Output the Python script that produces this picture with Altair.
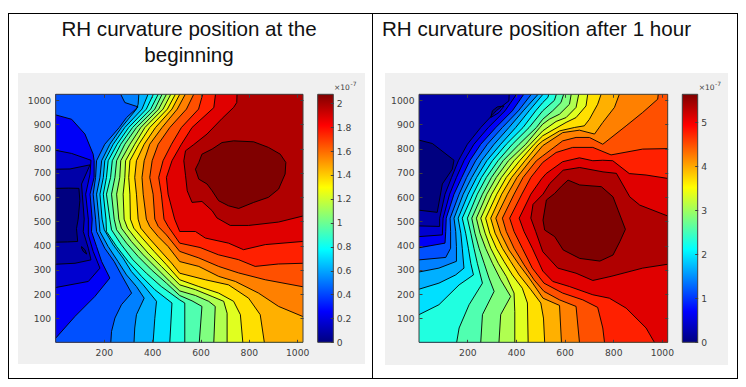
import altair as alt
import pandas as pd

W, H = 730, 371
titles_left = ["RH curvature position at the", "beginning"]
title_right = "RH curvature position after 1 hour"
band_colors = ["#000080", "#0000a8", "#0000d0", "#0000f8", "#0050ff", "#0080ff", "#00b0ff",
               "#00e0ff", "#20ffe0", "#50ffb0", "#80ff80", "#b0ff50", "#e0ff20", "#ffe000",
               "#ffb000", "#ff8000", "#ff5000", "#ff2000", "#e00000", "#b00000", "#800000"]
jet_stops = ["#00007f", "#0000ff", "#007fff", "#00ffff", "#7fff7f", "#ffff00", "#ff7f00", "#ff0000", "#7f0000"]
x_ticks = [200, 400, 600, 800, 1000]
y_ticks = [100, 200, 300, 400, 500, 600, 700, 800, 900, 1000]
left_cbar_ticks = [0, 0.2, 0.4, 0.6, 0.8, 1, 1.2, 1.4, 1.6, 1.8, 2]
right_cbar_ticks = [0, 1, 2, 3, 4, 5]
left_cbar_max = 2.075
right_cbar_max = 5.64
field_corners = [(1, 1), (1024, 1), (1024, 1024), (1, 1024)]

# ---- left panel contour lines, data units (x, y)
a1 = [(1,636),(55,637),(97,636),(101,585),(94,509),(87,470),(92,417),(50,415),(1,414)]
a1_speck = [(108,396),(122,383),(129,365),(115,376),(108,390),(108,396)]
a2 = [(1,715),(60,716),(143,733),(108,654),(111,612),(119,509),(115,458),(136,389),(147,341),(81,327),(1,323)]
a3 = [(1,793),(67,780),(147,752),(143,695),(125,612),(136,509),(136,444),(156,376),(184,307),(136,252),(1,227)]
a4 = [(1,939),(67,921),(122,860),(156,777),(160,750),(160,681),(143,612),(152,509),(149,458),(170,396),(191,334),(225,266),(163,190),(81,108),(1,18)]
a5 = [(270,1024),(287,990),(342,972),(294,928),(264,887),(204,818),(170,750),(166,681),(156,612),(166,509),(170,458),(204,389),(243,334),(273,279),(315,204),(273,156),(246,101),(232,46),(229,1)]
a6 = [(345,1024),(342,983),(335,963),(273,887),(225,818),(191,750),(184,681),(170,612),(180,509),(184,458),(218,396),(259,334),(294,279),(335,231),(367,183),(335,115),(328,60),(325,1)]
a7 = [(383,1024),(358,963),(287,887),(239,818),(204,750),(198,681),(184,612),(193,509),(202,465),(239,403),(280,348),(314,293),(363,238),(418,170),(411,100),(404,1)]
a8 = [(405,1024),(376,963),(303,887),(255,818),(218,750),(211,681),(198,612),(209,509),(211,458),(253,396),(301,334),(356,273),(411,218),(482,163),(473,1)]
a9 = [(425,1024),(394,963),(319,887),(270,818),(235,750),(228,681),(211,612),(225,509),(232,465),(273,403),(321,341),(376,286),(438,231),(514,176),(535,163),(535,1)]
a10 = [(441,1024),(411,963),(335,887),(287,818),(253,750),(246,681),(232,612),(243,509),(253,465),(294,410),(342,355),(397,300),(459,245),(514,194),(565,172),(606,149),(595,1)]
a11 = [(459,1024),(427,963),(353,887),(308,818),(270,750),(266,681),(253,612),(262,509),(273,472),(314,417),(363,362),(418,307),(473,252),(514,213),(579,194),(634,170),(661,149),(655,1)]
a12 = [(477,1024),(445,963),(370,887),(328,818),(290,750),(287,681),(280,612),(284,509),(298,472),(335,424),(383,369),(438,314),(514,238),(579,218),(648,190),(696,170),(710,121),(710,1)]
a13 = [(496,1024),(463,963),(390,887),(345,818),(308,750),(303,681),(308,612),(310,509),(324,472),(359,431),(408,376),(459,321),(514,259),(593,231),(675,204),(737,170),(765,115),(775,1)]
a14 = [(514,1024),(482,963),(414,887),(367,818),(335,750),(328,681),(335,612),(342,509),(353,472),(387,431),(431,382),(480,328),(514,286),(620,259),(716,238),(799,183),(847,115),(864,1)]
a15 = [(537,1024),(504,963),(441,887),(390,818),(367,750),(358,681),(363,612),(376,509),(390,479),(425,437),(466,396),(514,334),(593,314),(675,273),(744,252),(840,204),(923,149),(1024,107)]
a16 = [(572,1024),(542,963),(473,887),(425,818),(400,750),(390,681),(404,612),(411,509),(425,479),(459,444),(514,376),(593,349),(675,314),(758,287),(868,259),(1024,230)]
a17 = [(609,1024),(592,963),(521,887),(480,818),(445,750),(427,681),(438,612),(449,509),(466,479),(514,410),(598,392),(674,362),(757,342),(826,314),(922,324),(1024,327)]
a18 = [(662,1024),(655,969),(565,887),(521,818),(482,750),(459,681),(466,612),(493,509),(514,458),(579,458),(620,431),(716,410),(778,383),(868,404),(1024,417)]
a19 = [(751,1024),(750,990),(737,970),(690,925),(627,860),(570,815),(538,791),(531,750),(538,690),(545,626),(565,578),(606,582),(648,544),(668,514),(723,483),(799,483),(923,497),(1024,522)]
a20 = [(689,825),(737,832),(820,828),(881,805),(930,777),(953,743),(950,695),(923,633),(881,599),(820,578),(758,553),(716,564),(675,585),(648,626),(627,654),(593,674),(579,715),(593,743),(606,777),(648,798),(689,825)]

# ---- right panel contour lines, data units (x, y)
b1 = [(1,835),(56,821),(145,752),(138,715),(97,654),(76,537),(1,546)]
b1_speck = [(296,928),(303,956),(323,972),(351,976),(330,949),(296,928)]
b2 = [(372,1024),(371,997),(319,956),(255,887),(200,818),(163,750),(135,681),(108,612),(86,513),(86,479),(1,481)]
b3 = [(402,1024),(355,956),(286,887),(227,818),(186,750),(155,681),(127,612),(100,513),(97,444),(1,437)]
b4 = [(432,1024),(385,956),(317,887),(255,818),(210,750),(177,681),(145,612),(113,513),(111,458),(108,410),(1,391)]
b5 = [(463,1024),(410,956),(344,887),(282,818),(234,750),(197,681),(166,612),(129,513),(131,458),(131,389),(111,351),(1,341)]
b6 = [(491,1024),(430,956),(371,887),(310,818),(258,750),(218,681),(183,612),(145,513),(152,458),(155,396),(155,335),(83,307),(1,291)]
b7 = [(511,1024),(454,956),(399,887),(337,818),(280,750),(238,681),(203,612),(162,513),(173,451),(179,389),(186,307),(152,279),(83,245),(1,220)]
b8 = [(535,1024),(531,1011),(510,990),(481,956),(429,887),(360,818),(303,750),(258,681),(223,612),(179,513),(193,451),(204,389),(214,327),(225,279),(166,238),(83,156),(1,115)]
b9 = [(566,1024),(558,999),(510,956),(454,887),(385,818),(326,750),(278,681),(241,612),(200,513),(214,451),(227,389),(241,327),(262,245),(207,156),(166,60),(156,1)]
b10 = [(596,1024),(585,990),(551,956),(510,921),(484,887),(413,818),(347,750),(299,681),(262,612),(218,513),(231,451),(248,389),(269,327),(289,266),(310,211),(262,115),(255,1)]
b11 = [(627,1024),(620,983),(579,942),(537,921),(510,901),(498,887),(440,818),(369,750),(319,681),(280,612),(237,513),(252,451),(275,389),(303,327),(337,259),(378,190),(337,115),(330,1)]
b12 = [(658,1024),(647,970),(606,928),(565,912),(510,873),(458,818),(392,750),(340,681),(300,612),(255,513),(273,451),(296,389),(327,327),(360,273),(392,204),(395,128),(395,1)]
b13 = [(695,1024),(688,976),(647,928),(606,908),(510,853),(475,818),(415,750),(360,681),(321,612),(275,513),(292,451),(319,389),(351,334),(385,279),(426,224),(447,163),(450,1)]
b14 = [(750,1024),(736,983),(702,921),(681,894),(640,887),(579,873),(510,832),(490,815),(437,750),(382,681),(341,612),(296,513),(314,451),(344,389),(378,334),(413,279),(461,218),(502,163),(513,101),(518,1)]
b15 = [(825,1024),(805,970),(757,908),(723,860),(661,876),(592,866),(510,812),(458,750),(404,681),(365,612),(317,513),(337,451),(371,382),(413,321),(454,266),(511,183),(579,153),(587,1)]
b16 = [(985,1024),(983,1004),(921,949),(853,894),(757,818),(702,846),(647,846),(592,832),(510,770),(484,750),(429,681),(392,612),(344,513),(360,458),(392,389),(433,321),(474,259),(515,211),(579,176),(647,149),(661,1)]
b17 = [(1024,800),(921,798),(791,774),(716,805),(633,805),(565,784),(510,743),(461,681),(424,612),(374,513),(392,458),(426,389),(467,307),(515,245),(592,204),(675,176),(736,145),(757,60),(764,1)]
b18 = [(1024,677),(935,691),(866,697),(798,750),(757,752),(716,750),(661,762),(592,746),(524,697),(505,675),(461,612),(413,513),(433,458),(467,389),(510,295),(551,252),(620,231),(716,197),(784,183),(853,142),(935,60),(969,1)]
b19 = [(1024,522),(909,567),(868,601),(813,698),(758,704),(662,722),(594,711),(539,656),(511,612),(470,570),(461,513),(481,458),(510,375),(572,307),(647,286),(716,256),(791,273),(921,307),(1024,323)]
b20 = [(614,670),(662,650),(751,643),(799,601),(820,546),(850,467),(827,416),(799,361),(745,336),(662,347),(594,382),(559,437),(518,464),(511,505),(525,588),(559,615),(587,645),(614,670)]

close_left_lo = [(1, 1), (1024, 1), (1024, 1024), (1, 1024)]
close_mid = [(1024, 1), (1024, 1024)]
close_top = [(1024, 1024)]
close_bottom = [(1024, 1)]
close_none = []

# (band painted, contour, closing corners)
left_spec = [(1,a1,close_left_lo),(0,a1_speck,close_none),(2,a2,close_left_lo),(3,a3,close_left_lo),(4,a4,close_left_lo),
             (5,a5,close_mid),(6,a6,close_mid),(7,a7,close_mid),(8,a8,close_mid),(9,a9,close_mid),(10,a10,close_mid),
             (11,a11,close_mid),(12,a12,close_mid),(13,a13,close_mid),(14,a14,close_mid),(15,a15,close_top),
             (16,a16,close_top),(17,a17,close_top),(18,a18,close_top),(19,a19,close_top),(20,a20,close_none)]
close_b2 = [(1, 1), (1024, 1), (1024, 1024)]
right_spec = [(1,b1,close_left_lo),(0,b1_speck,close_none),(2,b2,close_b2),(3,b3,close_b2),(4,b4,close_b2),(5,b5,close_b2),
              (6,b6,close_b2),(7,b7,close_b2),(8,b8,close_b2),(9,b9,close_mid),(10,b10,close_mid),(11,b11,close_mid),
              (12,b12,close_mid),(13,b13,close_mid),(14,b14,close_mid),(15,b15,close_mid),(16,b16,close_mid),
              (17,b17,close_bottom),(18,b18,close_bottom),(19,b19,close_none),(20,b20,close_none)]

AXC = "#404040"
FONT = "DejaVu Sans"
one = pd.DataFrame({"a": [0]})


def frames(spec):
    fill, line = [], []
    for i, (x, y) in enumerate(field_corners):
        fill.append(dict(poly=0, band=0, idx=i, x=x, y=y))
    for k, (band, pts, closing) in enumerate(spec, start=1):
        for i, (x, y) in enumerate(list(pts) + list(closing)):
            fill.append(dict(poly=k, band=band, idx=i, x=x, y=y))
        for i, (x, y) in enumerate(pts):
            line.append(dict(poly=k, band=band, idx=i, x=x, y=y))
    return pd.DataFrame(fill), pd.DataFrame(line)


def panel(spec, x0, x1, y0, y1, cb0, cb1, cb_max, cb_ticks, cb_fmt):
    fill, line = frames(spec)
    sx = alt.Scale(domain=[1, 1024], range=[x0, x1], nice=False, zero=False)
    sy = alt.Scale(domain=[1, 1024], range=[y1, y0], nice=False, zero=False)
    layers = []
    layers.append(alt.Chart(fill).mark_line(filled=True, strokeWidth=0, interpolate="linear").encode(
        x=alt.X("x:Q", axis=None, scale=sx), y=alt.Y("y:Q", axis=None, scale=sy),
        color=alt.Color("band:O", scale=alt.Scale(domain=list(range(21)), range=band_colors), legend=None),
        detail="poly:N", order="idx:Q"))
    layers.append(alt.Chart(line).mark_line(color="#000000", strokeWidth=0.9, interpolate="linear").encode(
        x=alt.X("x:Q", axis=None, scale=sx), y=alt.Y("y:Q", axis=None, scale=sy),
        detail="poly:N", order="idx:Q"))
    box = pd.DataFrame({"x": [1], "x2": [1024], "y": [1], "y2": [1024]})
    common = dict(grid=False, title=None, zindex=1)
    text = dict(labelFontSize=9.2, labelFont=FONT, labelColor=AXC, labelOverlap=False, ticks=False, domain=False)
    # labelled axes
    layers.append(alt.Chart(box).mark_rect(fill=None, stroke=AXC, strokeWidth=1).encode(
        x=alt.X("x:Q", scale=sx, axis=alt.Axis(orient="bottom", offset=y1 - H, values=x_ticks, format="d", labelPadding=6, **text, **common)),
        x2="x2:Q",
        y=alt.Y("y:Q", scale=sy, axis=alt.Axis(orient="left", offset=-x0, values=y_ticks, format="d", labelPadding=5, **text, **common)),
        y2="y2:Q"))
    # inward ticks: bottom & left edge
    ticks = dict(labels=False, domain=False, tickColor=AXC, tickSize=3, **common)
    layers.append(alt.Chart(box).mark_rect(fill=None, strokeWidth=0).encode(
        x=alt.X("x:Q", scale=sx, axis=alt.Axis(orient="top", offset=-y1, values=x_ticks, **ticks)), x2="x2:Q",
        y=alt.Y("y:Q", scale=sy, axis=alt.Axis(orient="right", offset=x0 - W, values=y_ticks, **ticks)), y2="y2:Q"))
    # inward ticks: top & right edge
    layers.append(alt.Chart(box).mark_rect(fill=None, strokeWidth=0).encode(
        x=alt.X("x:Q", scale=sx, axis=alt.Axis(orient="bottom", offset=y0 - H, values=x_ticks, **ticks)), x2="x2:Q",
        y=alt.Y("y:Q", scale=sy, axis=alt.Axis(orient="left", offset=-x1, values=y_ticks, **ticks)), y2="y2:Q"))
    # colorbar
    scb = alt.Scale(domain=[0, cb_max], range=[y1, y0], nice=False, zero=False)
    bar = pd.DataFrame({"lo": [0], "hi": [cb_max]})
    n = len(jet_stops) - 1
    grad = alt.LinearGradient(gradient="linear", x1=0, x2=0, y1=1, y2=0,
                              stops=[alt.GradientStop(color=c, offset=i / n) for i, c in enumerate(jet_stops)])
    layers.append(alt.Chart(bar).mark_rect(fill=grad, stroke=AXC, strokeWidth=1).encode(
        x=alt.value(cb0), x2=alt.value(cb1),
        y=alt.Y("lo:Q", scale=scb, axis=alt.Axis(orient="right", offset=cb1 - W, values=cb_ticks, format=cb_fmt, labelPadding=3, **text, **common)),
        y2="hi:Q"))
    layers.append(alt.Chart(bar).mark_rect(fill=None, strokeWidth=0).encode(
        x=alt.value(cb0), x2=alt.value(cb1),
        y=alt.Y("lo:Q", scale=scb, axis=alt.Axis(orient="left", offset=-cb1, values=cb_ticks, **ticks)),
        y2="hi:Q"))
    return layers


def rule_h(y, x0, x1):
    return alt.Chart(one).mark_rule(color="#000000", strokeWidth=1).encode(x=alt.value(x0), x2=alt.value(x1), y=alt.value(y))


def rule_v(x, y0, y1):
    return alt.Chart(one).mark_rule(color="#000000", strokeWidth=1).encode(x=alt.value(x), y=alt.value(y0), y2=alt.value(y1))


def plate(x0, x1, y0, y1):
    return alt.Chart(one).mark_rect(fill="#f0f0f0").encode(x=alt.value(x0), x2=alt.value(x1), y=alt.value(y0), y2=alt.value(y1))


def label(t, x, y, size, align="left", font="Liberation Sans", color="#111111"):
    return alt.Chart(one).mark_text(font=font, fontSize=size, align=align, baseline="alphabetic", color=color).encode(
        text=alt.value(t), x=alt.value(x), y=alt.value(y))


T, B = 86.3, 334.3
layers = [
    plate(10, 357, 65, 356), plate(377, 720, 65, 357),
    rule_h(5.5, 0, W), rule_h(370.5, 0, W),
    rule_v(0.5, 5, H), rule_v(364.5, 5, H), rule_v(729.5, 5, H),
    label(titles_left[0], 181, 28, 20.6, "center"), label(titles_left[1], 181, 53.5, 20.6, "center"),
    label(title_right, 374, 28, 20.6),
    label("×10", 326, 82, 7.5, font=FONT, color=AXC), label("-7", 342.5, 78, 6, font=FONT, color=AXC),
    label("×10", 690.7, 82, 7.5, font=FONT, color=AXC), label("-7", 707, 78, 6, font=FONT, color=AXC),
]
layers += panel(left_spec, 47.7, 295, T, B, 309.7, 325.3, left_cbar_max, left_cbar_ticks, "~g")
layers += panel(right_spec, 411, 659.7, T, B, 674.3, 689.7, right_cbar_max, right_cbar_ticks, "~g")

chart = alt.layer(*layers).resolve_scale(x="independent", y="independent").properties(
    width=W, height=H, padding=0, autosize=alt.AutoSizeParams(type="none"),
).configure_view(stroke=None)
chart.save("out.html", embed_options={"renderer": "svg", "actions": False})
